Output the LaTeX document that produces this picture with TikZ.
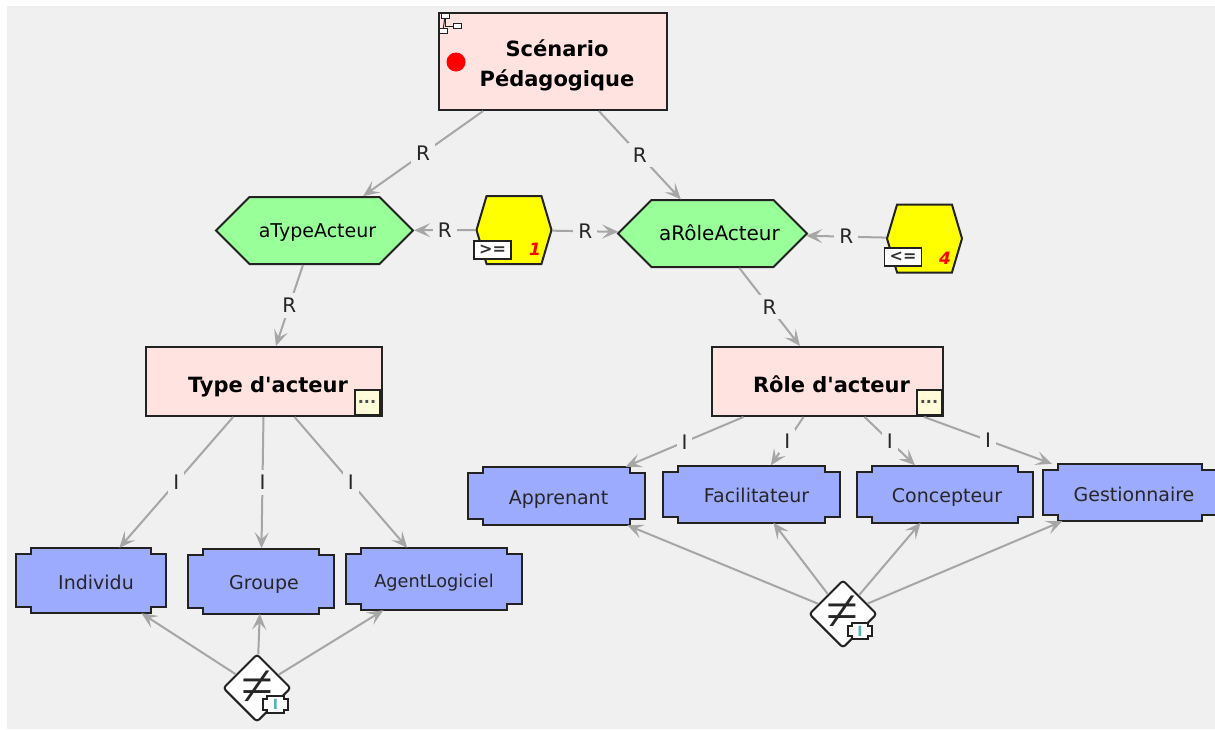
\documentclass[tikz,border=0pt]{standalone}
\usepackage{amsmath}
\usepackage{fontspec}
\setmainfont{DejaVu Sans}
\newfontfamily\neqfont{Liberation Serif}
\usetikzlibrary{arrows.meta,calc,shapes.geometric,shapes.symbols}

\definecolor{panelgrey}{HTML}{F0F0F0}
\definecolor{conceptpink}{HTML}{FFE3E0}
\definecolor{relgreen}{HTML}{99FF99}
\definecolor{instblue}{HTML}{9DABFF}
\definecolor{ruleyellow}{HTML}{FFFF00}
\definecolor{noteyellow}{HTML}{FFFBD8}
\definecolor{edgegrey}{HTML}{A6A6A6}
\definecolor{badgeteal}{HTML}{4FB5B5}
\definecolor{outline}{HTML}{222222}

% notched box: name, centre, width, height, notch x, notch y, colour, text, text style
\newcommand{\notchbox}[9]{%
    \draw[line width=2,draw=outline,fill=#7]
        ($(#2)+(-#3/2,-#4/2+#6)$) -- ++(#5,0) -- ++(0,-#6) -- ($(#2)+(#3/2-#5,-#4/2)$)
        -- ++(0,#6) -- ++(#5,0) -- ($(#2)+(#3/2,#4/2-#6)$)
        -- ++(-#5,0) -- ++(0,#6) -- ($(#2)+(-#3/2+#5,#4/2)$)
        -- ++(0,-#6) -- ++(-#5,0) -- cycle;
    \node[#9,minimum width=#3,minimum height=#4] (#1) at (#2) {#8};
}

\begin{document}
\begin{tikzpicture}[x=1pt,y=-1pt,
    concept/.style={rectangle,draw=outline,line width=2,fill=conceptpink,font=\bfseries\fontsize{21}{30}\selectfont,align=center,inner sep=0},
    relation/.style={signal,signal to=west and east,draw=outline,line width=2,fill=relgreen,inner sep=0,text height=16,text depth=2,font=\fontsize{19}{20}\selectfont},
    rulenode/.style={signal,signal to=west and east,signal pointer angle=147,draw=outline,line width=2,fill=ruleyellow,inner sep=0,minimum width=75,minimum height=68},
    ruletag/.style={rectangle,draw=outline,line width=1.5,fill=white,inner sep=0,minimum width=37,minimum height=18,text=black!80,font=\bfseries\fontsize{16}{16}\selectfont},
    rulecount/.style={text=red,font=\bfseries\itshape\fontsize{17}{17}\selectfont,inner sep=0},
    disjoint/.style={diamond,draw=outline,line width=2,fill=white,rounded corners=3,minimum width=68,minimum height=68,inner sep=0},
    neqmark/.style={inner sep=0,text=black!85,font=\neqfont\fontsize{58}{58}\selectfont},
    instance/.style={rectangle,inner sep=0,text height=20,text depth=3,text=black!85,font=\fontsize{19}{19}\selectfont},
    badge/.style={rectangle,inner sep=0,text=badgeteal,font=\bfseries\fontsize{14}{14}\selectfont},
    notemark/.style={rectangle,draw=outline,line width=2,fill=noteyellow,minimum size=25,inner sep=0,text=black!70,font=\bfseries\fontsize{16}{16}\selectfont},
    treebox/.style={rectangle,draw=outline,line width=1,fill=white,minimum width=8,minimum height=5,inner sep=0},
    every edge/.style={draw=edgegrey,line width=2},
    edgelabel/.style={fill=panelgrey,inner sep=5,text=black!85,font=\fontsize{20}{20}\selectfont},
    >={Stealth[length=16,width=14,inset=7]}]

    \useasboundingbox (0,0) rectangle (1215,729);
    \fill[panelgrey] (7,6) rectangle (1215,729);

    \node[concept,minimum width=228,minimum height=97,text height=52,text depth=3] (scenario) at (553,61.5) {\hspace*{8pt}Scénario\\\hspace*{8pt}Pédagogique};
    \node[relation,minimum width=197,minimum height=67] (atype) at (314.5,230.5) {\makebox[0pt]{\hspace*{6pt}aTypeActeur}};
    \node[relation,minimum width=189,minimum height=67] (arole) at (712.5,233.5) {\makebox[0pt]{\hspace*{14pt}\fontsize{20}{20}\selectfont aRôleActeur}};
    \node[rulenode] (rule1) at (514,230) {};
    \node[rulenode] (rule4) at (924.5,238.5) {};
    \node[concept,minimum width=236,minimum height=69,text height=24,text depth=3] (type) at (264,381.5) {\hspace*{8pt}Type d\textquotesingle acteur};
    \node[concept,minimum width=231,minimum height=69,text height=24,text depth=3] (role) at (827.5,381.5) {\hspace*{8pt}Rôle d\textquotesingle acteur};

    \notchbox{individu}{91,580.5}{150}{65}{15}{6}{instblue}{\hspace*{10pt}Individu}{instance}
    \notchbox{groupe}{261,581}{146}{65}{15}{6}{instblue}{\hspace*{6pt}Groupe}{instance}
    \notchbox{agent}{434,579}{176}{62}{15}{6}{instblue}{{\fontsize{17.7}{18}\selectfont AgentLogiciel}}{instance}
    \notchbox{apprenant}{556.5,496}{177}{58}{15}{6}{instblue}{\hspace*{4pt}Apprenant}{instance}
    \notchbox{facil}{751.5,494}{177}{57}{15}{6}{instblue}{\hspace*{10pt}Facilitateur}{instance}
    \notchbox{concepteur}{945,494}{176}{57}{15}{6}{instblue}{\hspace*{4pt}Concepteur}{instance}
    \notchbox{gestion}{1130,492.5}{174}{57}{15}{6}{instblue}{\hspace*{8pt}Gestionnaire}{instance}

    \node[disjoint] (neqtype) at (257,688) {};
    \node[disjoint] (neqrole) at (843,614) {};

    \begin{scope}[every node/.style=edgelabel]
        \path [->] (scenario) edge node {R} (atype);
        \path [->] (scenario) edge node {R} (arole);
        \path [->] (rule1) edge node {R} (atype);
        \path [->] (rule1) edge node {R} (arole);
        \path [->] (rule4) edge node {R} (arole);
        \path [->] (atype) edge node {R} (type);
        \path [->] (arole) edge node {R} (role);
        \path [->] (type) edge node {I} (individu);
        \path [->] (type) edge node {I} (groupe);
        \path [->] (type) edge node {I} (agent);
        \path [->] (role) edge node {I} (apprenant);
        \path [->] (role) edge node {I} (facil);
        \path [->] (role) edge node {I} (concepteur);
        \path [->] (role) edge node {I} (gestion);
    \end{scope}

    \path [->] (neqtype) edge (individu);
    \path [->] (neqtype) edge (groupe);
    \path [->] (neqtype) edge (agent);
    \path [->] (neqrole) edge (apprenant);
    \path [->] (neqrole) edge (facil);
    \path [->] (neqrole) edge (concepteur);
    \path [->] (neqrole) edge (gestion);

    % small marks on the nodes
    \node[ruletag] (tag1) at (492.5,250) {>=};
    \node[rulecount] (count1) at (535,249) {1};
    \node[ruletag] (tag4) at (903,257) {<=};
    \node[rulecount] (count4) at (945,258) {4};
    \node[circle,fill=red,minimum size=19,inner sep=0] (dot) at (456,62) {};
    \node[notemark] (notetype) at (367,402) {...};
    \node[notemark] (noterole) at (929,402) {...};
    \node[neqmark] (neqa) at (257,688) {≠};
    \node[neqmark] (neqb) at (842,613) {≠};
    \notchbox{badgea}{275.5,704.5}{25}{17}{4}{3}{white}{I}{badge}
    \notchbox{badgeb}{860,631}{24}{16}{4}{3}{white}{I}{badge}

    \node[treebox] (treea) at (445,16) {};
    \node[treebox] (treeb) at (457,26) {};
    \node[treebox] (treec) at (443,31) {};
    \draw[line width=1,draw=outline] (treea) -- (treec);
    \draw[line width=1,draw=outline] (treea) |- (treeb);
\end{tikzpicture}
\end{document}
